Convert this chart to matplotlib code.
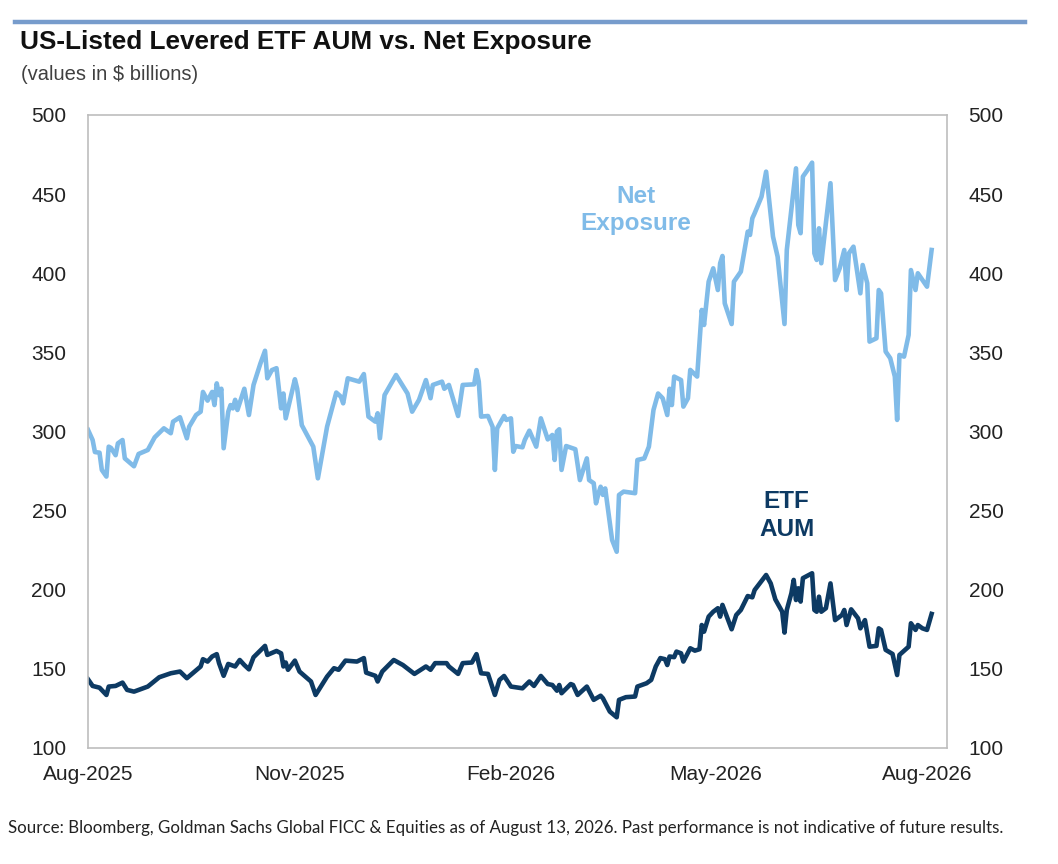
import matplotlib
matplotlib.use("Agg")
import matplotlib.pyplot as plt
import pandas as pd
import numpy as np

# ---------------- data (values in $ billions) ----------------
start_date = "2025-08-01"   # day 0 of the series below

net_day = [0, 2, 3, 5, 6, 8, 9, 10, 12, 13, 15, 16, 20, 22, 26, 29, 33, 36, 37, 40,
           43, 44, 47, 49, 50, 52, 54, 55, 56, 57, 58, 59, 61, 62, 63, 64, 65, 68, 70, 72,
           75, 77, 78, 80, 82, 84, 85, 86, 90, 91, 93, 98, 100, 104, 108, 110, 111, 113, 118, 120,
           122, 125, 126, 127, 129, 134, 139, 141, 144, 147, 149, 150, 154, 155, 157, 161, 163, 168, 169, 170,
           171, 174, 176, 177, 178, 181, 182, 184, 185, 186, 189, 190, 192, 195, 197, 200, 202, 203, 204, 205,
           206, 208, 212, 214, 217, 218, 220, 221, 222, 223, 224, 225, 228, 230, 231, 233, 238, 239, 242, 244,
           246, 248, 250, 252, 253, 254, 255, 258, 259, 261, 262, 265, 267, 268, 270, 272, 274, 275, 276, 277,
           280, 281, 284, 287, 288, 289, 290, 293, 295, 298, 300, 303, 304, 308, 309, 310, 311, 313, 315, 316,
           317, 318, 319, 323, 325, 327, 329, 330, 331, 333, 336, 337, 339, 340, 343, 344, 345, 347, 349, 351,
           352, 353, 355, 357, 358, 360, 361, 365, 367]
net_exposure = [301, 294.6, 287, 286.6, 275.7, 271.5, 290.4, 289.6, 285, 292.5, 294.6, 283, 278, 285.8, 288.3, 296.3, 302, 298.9, 306.2, 309,
                295.7, 303, 310.4, 312.5, 325, 319.5, 325, 316.7, 330.4, 323, 327, 289.4, 312.5, 316.7, 314.6, 320, 313.6, 327, 310.4, 329.4,
                343, 351, 333.6, 338.8, 340, 314.6, 324, 308.3, 333, 327, 304, 290.4, 270.4, 303, 324.6, 322, 317.8, 333.6, 331.5, 336.3,
                309.4, 306.2, 311.5, 295.7, 323, 335.7, 324, 312.5, 320, 332.5, 321, 329.4, 331.5, 327, 329.4, 309.8, 329.4, 329.8, 338.8, 331.5,
                309.4, 309.8, 303, 275.7, 302, 309.8, 307.3, 308.3, 287.2, 290.8, 290, 294.6, 300.5, 290.4, 308.3, 295, 297.8, 282, 300, 301.4,
                275.7, 290.8, 288.8, 269.3, 283, 269.3, 267.3, 254.6, 260.5, 265.1, 259.9, 264, 231.4, 224, 259.9, 262, 261, 282, 283, 290.4,
                313.6, 324, 321, 310.4, 327, 316.7, 334.7, 332.5, 315.7, 321, 338.9, 334.7, 376.8, 367.3, 394.7, 403.1, 389.4, 406.3, 410.9, 381,
                367.9, 394.7, 401, 426.3, 424.2, 434.7, 437.9, 448.4, 464.2, 423.1, 410.5, 367.9, 414.7, 466.3, 430.5, 425.3, 461.1, 465.2, 469.9, 412.6,
                408.4, 428.4, 406.3, 456.9, 395.7, 403.1, 414.7, 389.4, 412.6, 416.8, 387.3, 405.2, 393.7, 356.8, 358.9, 389.4, 387.3, 350.5, 346.3, 334.7,
                307.3, 348.4, 347.3, 361, 402, 389.4, 400, 391.5, 414.7]

aum_day = [0, 2, 5, 8, 9, 12, 15, 17, 20, 26, 31, 36, 40, 43, 49, 50, 52, 54, 56, 57,
           59, 61, 64, 66, 68, 70, 72, 76, 77, 78, 82, 84, 85, 86, 87, 90, 92, 97, 99, 104,
           107, 109, 112, 117, 120, 121, 125, 126, 128, 133, 137, 142, 147, 149, 151, 156, 157, 161, 163, 167,
           169, 171, 174, 177, 179, 181, 184, 187, 189, 192, 194, 197, 200, 202, 204, 205, 206, 210, 211, 213,
           217, 220, 223, 224, 227, 230, 231, 234, 238, 239, 243, 245, 247, 249, 251, 252, 253, 255, 256, 258,
           259, 262, 264, 266, 267, 268, 270, 272, 274, 275, 276, 279, 280, 282, 284, 287, 289, 290, 295, 297,
           299, 302, 303, 304, 306, 307, 308, 309, 310, 311, 315, 316, 317, 318, 319, 321, 323, 325, 328, 329,
           330, 332, 335, 336, 338, 340, 343, 344, 345, 347, 350, 352, 353, 357, 358, 360, 361, 363, 365, 367]
etf_aum = [143.4, 139.2, 138.1, 133.5, 138.8, 139.2, 141.3, 136.7, 135.6, 138.8, 144.7, 147.2, 148.3, 144.1, 151.5, 156.1, 154.6, 157.8, 159.3, 153.6,
           145.6, 153.1, 151.5, 155.6, 152.4, 149.7, 157.3, 163, 164.5, 158.8, 161.3, 159.8, 151.5, 154, 149.4, 155.2, 148.3, 142, 133.5, 145.1,
           150.4, 149.4, 155.2, 154.6, 156.8, 147.6, 145.6, 142, 148.3, 155.6, 152.4, 146.8, 151.5, 149.4, 153.6, 153.6, 151.5, 146.8, 153.6, 154,
           159.3, 147.2, 146.8, 133.5, 143, 145.5, 138.8, 138.1, 137.7, 142, 139.2, 145.5, 140.4, 139.8, 136.2, 139.8, 134.6, 140.4, 139.8, 133.5,
           138.8, 130.4, 133, 131.4, 123, 119.4, 130.4, 132.1, 132.5, 138.8, 140.9, 143, 151.5, 156.8, 156.1, 152.4, 157.8, 157.4, 160.9, 159.8,
           154.6, 163, 161.5, 162.4, 177.7, 173.5, 183, 186.1, 188.3, 183, 190.4, 178.8, 175, 184, 187.2, 196, 195.2, 199.8, 209.3, 204,
           193.9, 186.1, 172.9, 187.2, 197.8, 206.2, 193.5, 200.9, 192.5, 207.3, 210.4, 187.2, 186.1, 195.6, 186.1, 188.3, 204, 180.8, 184, 187.2,
           177.7, 187.6, 181.9, 175.6, 180.8, 164, 164.5, 175.6, 174.6, 162, 159.4, 146.1, 158.8, 164, 178.8, 174.6, 177.7, 175.6, 174.6, 184.7]

tick_dates = ["2025-08-01", "2025-11-01", "2026-02-01", "2026-05-01", "2026-08-01"]
tick_labels = ["Aug-2025", "Nov-2025", "Feb-2026", "May-2026", "Aug-2026"]
y_ticks = [100, 150, 200, 250, 300, 350, 400, 450, 500]

title = "US-Listed Levered ETF AUM vs. Net Exposure"
subtitle = "(values in $ billions)"
source = ("Source: Bloomberg, Goldman Sachs Global FICC & Equities as of August 13, 2026. "
          "Past performance is not indicative of future results.")

# ---------------- styling ----------------
NET_COLOR = "#80bbe8"
AUM_COLOR = "#0d3a63"
plt.rcParams["font.family"] = ["Liberation Sans", "DejaVu Sans"]

t0 = pd.Timestamp(start_date)
net_dates = t0 + pd.to_timedelta(net_day, unit="D")
aum_dates = t0 + pd.to_timedelta(aum_day, unit="D")

fig = plt.figure(figsize=(10.58, 8.64), dpi=100)
ax = fig.add_axes([0.0832, 0.1343, 0.8119, 0.7326])

ax.plot(net_dates, net_exposure, color=NET_COLOR, lw=3.3, solid_joinstyle="round")
ax.plot(aum_dates, etf_aum, color=AUM_COLOR, lw=3.3, solid_joinstyle="round")

ax.set_ylim(100, 500)
ax.set_xlim(t0, t0 + pd.Timedelta(days=373.7))
ax.set_yticks(y_ticks)
ax.set_xticks(pd.to_datetime(tick_dates))
ax.set_xticklabels(tick_labels)
ax.tick_params(axis="both", length=0, labelsize=15, colors="#222222")
ax.tick_params(axis="y", labelright=True, pad=15.5)
ax.tick_params(axis="x", pad=12)
for s in ax.spines.values():
    s.set_color("#bdbdbd")
    s.set_linewidth(1.2)

ax.text(t0 + pd.Timedelta(days=238.5), 440, "Net\nExposure", color=NET_COLOR,
        fontsize=17.5, fontweight="bold", ha="center", va="center", linespacing=1.25)
ax.text(t0 + pd.Timedelta(days=304), 247, "ETF\nAUM", color=AUM_COLOR,
        fontsize=17.5, fontweight="bold", ha="center", va="center", linespacing=1.25)

# header / footer
fig.add_artist(plt.Line2D([15 / 1058, 1025 / 1058], [1 - 22 / 864, 1 - 22 / 864],
                          color="#779ccc", lw=3.2, transform=fig.transFigure))
fig.text(20 / 1058, 1 - 42 / 864, title, fontsize=18.8, fontweight="bold",
         color="#111111", ha="left", va="center")
fig.text(21 / 1058, 1 - 74 / 864, subtitle, fontsize=14.5, color="#404040",
         ha="left", va="center")
fig.text(8 / 1058, 1 - 828 / 864, source, fontsize=12.2, color="#222222",
         ha="left", va="center", family=["Lato", "DejaVu Sans"])

fig.savefig("out.png", dpi=100, facecolor="white")
